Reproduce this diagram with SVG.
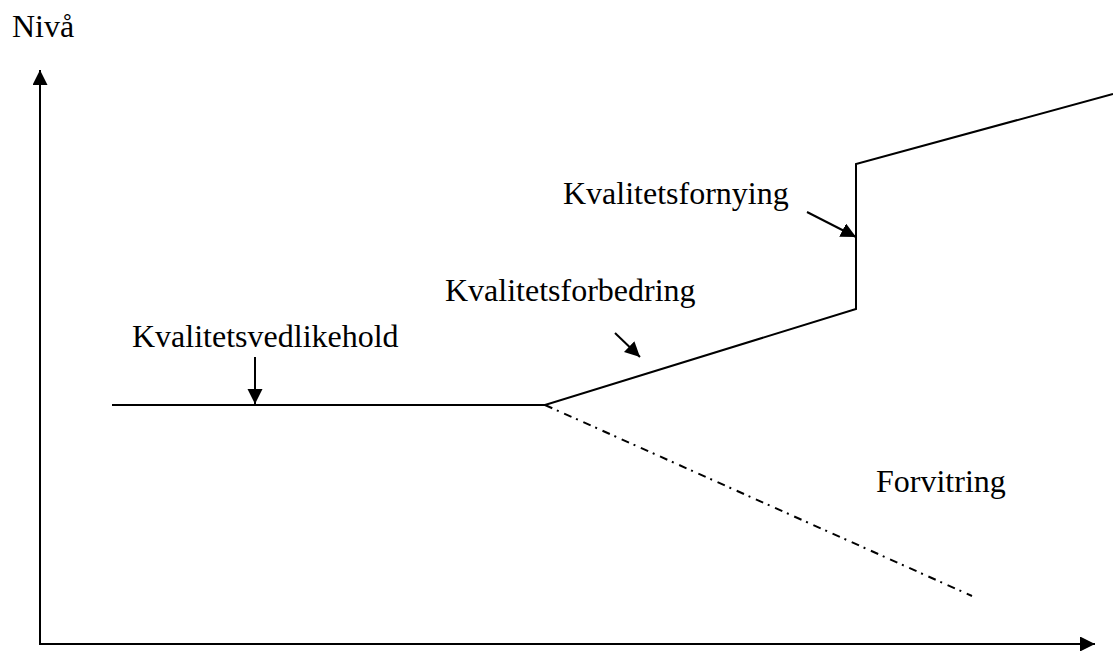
<svg xmlns="http://www.w3.org/2000/svg" width="1113" height="651" viewBox="0 0 1113 651">
<style>
.t{font-family:"Liberation Serif","Times New Roman",serif;font-size:32px;fill:#000}
.l{stroke:#000;stroke-width:2;fill:none}
</style>
<defs>
<marker id="ah" markerUnits="userSpaceOnUse" markerWidth="16" markerHeight="16" refX="15" refY="7.5" orient="auto">
<path d="M0,0 L15,7.5 L0,15 z" fill="#000"/>
</marker>
</defs>
<rect width="1113" height="651" fill="#fff"/>
<g id="axes">
<line class="l" x1="40" y1="645" x2="40" y2="70" marker-end="url(#ah)"/>
<line class="l" x1="39" y1="644" x2="1095" y2="644" marker-end="url(#ah)"/>
</g>
<g id="connectors">
<polyline class="l" points="112,405 545,405 856,309 856,164 1113,94"/>
<line class="l" x1="545" y1="405" x2="972" y2="596" stroke-dasharray="8 5 2 6"/>
<line class="l" x1="255" y1="357" x2="255" y2="404" marker-end="url(#ah)"/>
<line class="l" x1="615" y1="333" x2="640" y2="357" marker-end="url(#ah)"/>
<line class="l" x1="807" y1="212" x2="856" y2="237" marker-end="url(#ah)"/>
</g>
<g id="label-niva"><text class="t" x="12" y="37">Nivå</text></g>
<g id="label-vedlikehold"><text class="t" x="132" y="347">Kvalitetsvedlikehold</text></g>
<g id="label-forbedring"><text class="t" x="445" y="301">Kvalitetsforbedring</text></g>
<g id="label-fornying"><text class="t" x="563" y="204">Kvalitetsfornying</text></g>
<g id="label-forvitring"><text class="t" x="876" y="492">Forvitring</text></g>
</svg>
